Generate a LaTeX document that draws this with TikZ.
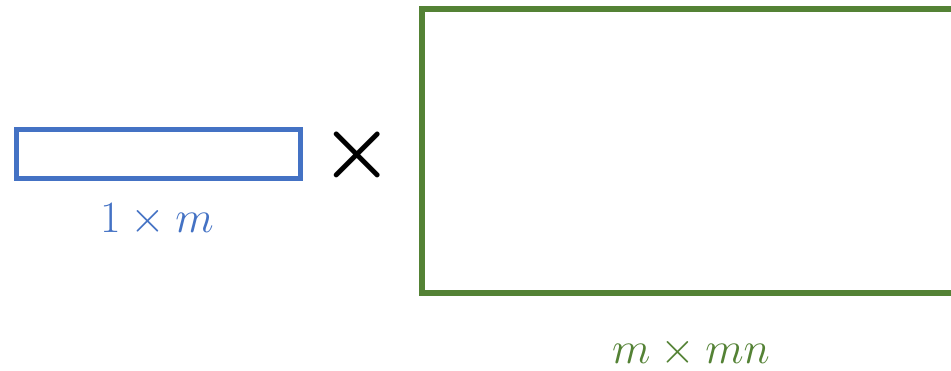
\documentclass[tikz,border=0pt]{standalone}
\definecolor{rowblue}{HTML}{4472C4}
\definecolor{matgreen}{HTML}{548235}
\tikzset{
  rowbox/.style={draw=rowblue, line width=5pt, inner sep=0pt, minimum width=284pt, minimum height=49pt},
  matbox/.style={draw=matgreen, line width=6pt, inner sep=0pt, minimum width=539pt, minimum height=283.5pt},
  lbl/.style={inner sep=0pt, font=\Huge, scale=1.8}
}
\begin{document}
\begin{tikzpicture}[x=1pt,y=-1pt]
\useasboundingbox (0,0) rectangle (951,371);
\clip (0,0) rectangle (951,371);
\node[rowbox] (row) at (158.5,154) {};
\node[matbox] (mat) at (691,151.25) {};
\node[inner sep=0pt, font=\Huge\mathversion{bold}, scale=3.3] (times) at (357.5,155) {$\times$};
\node[lbl, text=rowblue] (lab1) at (157,220) {$1\times m$};
\node[lbl, text=matgreen] (lab2) at (691,352) {$m\times mn$};
\end{tikzpicture}
\end{document}
